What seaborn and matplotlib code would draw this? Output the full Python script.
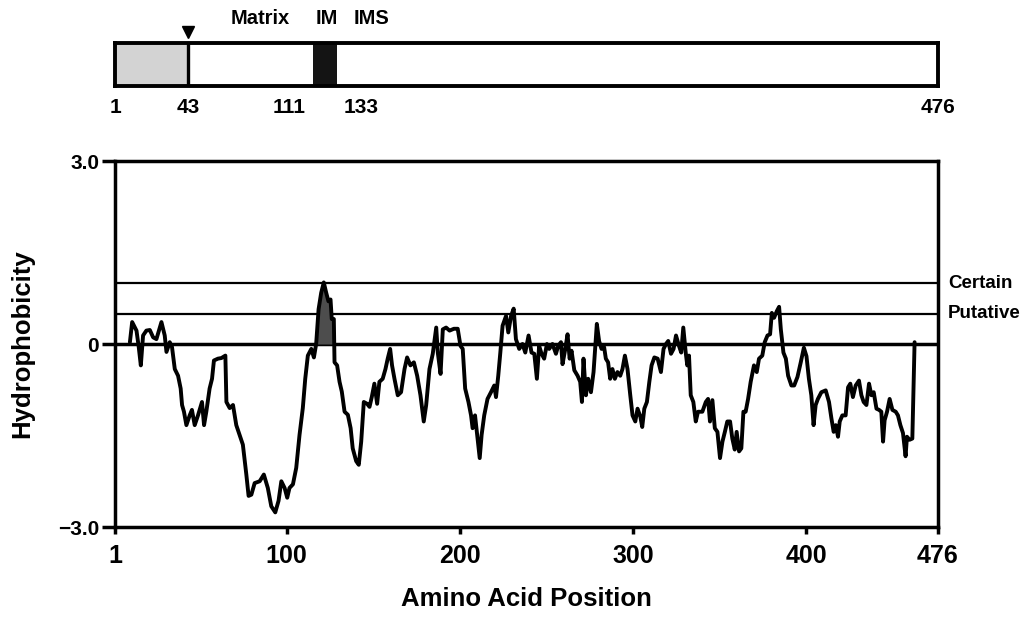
import numpy as np
import pandas as pd
import matplotlib
matplotlib.use('Agg')
import matplotlib.pyplot as plt
import matplotlib.transforms as mtransforms
import seaborn as sns

# ---------------- data ----------------
positions = [
    9.6, 10.9, 13.4, 14.7, 15.9, 17.2, 19.1, 21.1, 23.0, 24.9, 27.8, 29.7, 30.7, 32.6, 33.9,
    35.5, 37.4, 38.9, 39.7, 40.8, 42.2, 44.1, 45.4, 47.0, 48.9, 51.2, 52.4, 53.7, 55.6, 57.0,
    58.1, 60.4, 62.4, 64.7, 65.3, 67.2, 69.1, 71.0, 72.9, 74.8, 76.8, 78.1, 79.7, 81.6, 84.5,
    86.9, 89.2, 91.2, 93.5, 95.4, 97.0, 98.9, 100.4, 101.7, 103.7, 105.6, 107.5, 109.4, 110.8,
    112.3, 114.3, 115.8, 117.1, 118.5, 120.0, 121.5, 122.9, 124.2, 125.4, 126.1, 127.3, 127.7,
    129.2, 130.6, 131.9, 133.5, 135.4, 137.0, 138.2, 140.2, 141.7, 143.1, 144.6, 146.5, 147.9,
    149.2, 150.7, 152.3, 153.6, 155.5, 157.1, 158.4, 159.8, 160.9, 162.3, 164.2, 166.1, 168.1,
    169.6, 171.5, 173.5, 175.4, 177.3, 179.2, 180.6, 182.5, 184.4, 186.4, 187.3, 188.9, 190.2,
    192.1, 194.1, 196.6, 198.8, 200.4, 201.7, 203.1, 205.0, 206.5, 207.4, 208.8, 210.3, 211.5,
    212.6, 214.1, 216.0, 218.0, 219.9, 220.9, 222.2, 223.4, 224.7, 226.7, 228.0, 229.6, 231.1,
    232.4, 234.3, 236.2, 237.8, 239.7, 241.4, 243.0, 244.5, 245.8, 247.2, 248.7, 250.3, 251.6,
    253.5, 255.5, 256.8, 258.4, 259.3, 260.9, 262.2, 263.4, 264.5, 266.1, 268.0, 269.5, 270.5,
    271.4, 272.8, 274.1, 275.7, 277.2, 279.1, 280.4, 281.8, 283.3, 284.3, 285.6, 286.8, 288.1,
    289.5, 291.0, 292.6, 293.9, 295.3, 296.8, 298.4, 299.7, 301.3, 302.6, 304.2, 305.3, 306.5,
    308.0, 309.4, 310.7, 312.3, 314.2, 316.1, 317.6, 319.0, 320.3, 321.9, 323.4, 324.8, 326.5,
    327.8, 329.0, 330.4, 331.3, 332.3, 333.3, 334.8, 336.2, 337.5, 340.0, 342.0, 343.3, 344.4,
    345.8, 347.2, 348.7, 350.2, 351.6, 353.0, 354.4, 356.0, 357.3, 358.7, 359.8, 361.2, 362.5,
    363.7, 365.0, 366.4, 367.9, 369.8, 371.4, 372.7, 374.6, 376.0, 377.6, 379.1, 380.1, 381.4,
    383.0, 384.3, 385.3, 386.8, 388.2, 389.5, 391.4, 393.0, 394.9, 396.8, 398.6, 400.1, 401.5,
    402.9, 404.2, 405.4, 406.7, 408.7, 411.2, 413.1, 414.5, 415.8, 417.0, 418.3, 419.3, 420.8,
    422.7, 424.1, 425.4, 426.9, 428.5, 430.4, 431.8, 433.1, 434.7, 436.2, 437.6, 438.9, 440.5,
    442.0, 443.3, 444.3, 445.2, 446.6, 448.1, 449.7, 451.6, 452.9, 454.3, 455.8, 457.3, 458.1,
    459.6, 461.2, 462.5,
]
hydrophobicity = [
    0.03, 0.36, 0.22, -0.05, -0.35, 0.14, 0.22, 0.23, 0.11, 0.08, 0.36, 0.14, -0.13, 0.03, -0.05,
    -0.41, -0.52, -0.73, -1.00, -1.11, -1.33, -1.17, -1.08, -1.33, -1.17, -0.95, -1.33, -1.11, -0.73, -0.57,
    -0.27, -0.24, -0.23, -0.19, -0.95, -1.05, -1.00, -1.33, -1.49, -1.65, -2.14, -2.49, -2.47, -2.28, -2.25,
    -2.14, -2.36, -2.66, -2.76, -2.57, -2.25, -2.36, -2.52, -2.36, -2.30, -2.03, -1.49, -1.05, -0.57,
    -0.19, -0.08, -0.22, 0.00, 0.57, 0.84, 1.01, 0.84, 0.70, 0.73, 0.41, 0.41, -0.30,
    -0.35, -0.62, -0.78, -1.11, -1.16, -1.38, -1.71, -1.92, -1.98, -1.60, -0.95, -0.98, -1.03,
    -0.87, -0.65, -0.98, -0.62, -0.57, -0.41, -0.24, -0.08, -0.35, -0.57, -0.84, -0.79, -0.41,
    -0.22, -0.35, -0.30, -0.52, -0.84, -1.27, -1.00, -0.41, -0.16, 0.27, -0.14, -0.49, 0.24,
    0.27, 0.22, 0.25, 0.25, -0.03, -0.08, -0.73, -0.95, -1.17, -1.38, -1.17, -1.55, -1.87,
    -1.49, -1.17, -0.90, -0.79, -0.68, -0.87, -0.52, -0.14, 0.30, 0.46, 0.19, 0.46, 0.58,
    0.08, -0.08, 0.00, -0.14, 0.14, -0.14, -0.16, -0.57, -0.03, -0.16, -0.24, 0.00, -0.08,
    0.00, -0.16, -0.03, 0.03, -0.33, -0.08, 0.16, -0.24, -0.11, -0.43, -0.52, -0.62, -0.95,
    -0.24, -0.84, -0.57, -0.79, -0.46, 0.33, 0.05, -0.08, -0.05, -0.24, -0.30, -0.57, -0.41,
    -0.57, -0.46, -0.52, -0.41, -0.19, -0.41, -0.84, -1.17, -1.27, -1.06, -1.19, -1.36, -1.06,
    -0.95, -0.62, -0.35, -0.22, -0.24, -0.46, -0.08, 0.00, 0.05, -0.16, -0.08, 0.14, -0.03,
    -0.14, 0.27, -0.14, -0.35, -0.19, -0.84, -0.95, -1.27, -1.11, -1.11, -0.95, -0.90, -1.27,
    -0.92, -1.38, -1.44, -1.87, -1.60, -1.44, -1.27, -1.27, -1.55, -1.73, -1.44, -1.76, -1.71,
    -1.11, -1.11, -0.90, -0.62, -0.35, -0.46, -0.24, -0.19, 0.03, 0.14, 0.16, 0.51, 0.43,
    0.54, 0.61, 0.24, -0.14, -0.24, -0.52, -0.68, -0.68, -0.54, -0.30, -0.06, -0.20, -0.57,
    -0.84, -1.33, -1.00, -0.90, -0.79, -0.76, -0.95, -1.22, -1.44, -1.33, -1.52, -1.27, -1.17,
    -1.17, -0.71, -0.65, -0.87, -0.68, -0.60, -0.84, -0.95, -1.00, -0.65, -0.84, -0.79, -1.06,
    -1.08, -1.11, -1.60, -1.25, -1.11, -0.90, -1.08, -1.11, -1.17, -1.33, -1.46, -1.84, -1.52,
    -1.57, -1.55, 0.03,
]

certain_threshold = 1.0
putative_threshold = 0.5
threshold_labels = ['Certain', 'Putative']

x_ticks = [1, 100, 200, 300, 400, 476]
x_tick_labels = ['1', '100', '200', '300', '400', '476']
y_ticks = [-3.0, 0.0, 3.0]
y_tick_labels = ['\u22123.0', '0', '3.0']

domain_starts = [1, 43, 115, 129]
domain_ends = [43, 115, 129, 476]
domain_colors = ['#d3d3d3', 'white', '#141414', 'white']
boundary_positions = [1, 43, 111, 133, 476]
boundary_labels = ['1', '43', '111', '133', '476']
region_positions = [85, 123, 149]
region_labels = ['Matrix', 'IM', 'IMS']
cleavage_site = 43
tm_start, tm_end = 116, 128

# ---------------- style ----------------
sns.set_theme(style='ticks')
plt.rcParams['font.family'] = ['Liberation Sans', 'DejaVu Sans']
plt.rcParams['font.weight'] = 'bold'
plt.rcParams['axes.labelweight'] = 'bold'

fig = plt.figure(figsize=(10.25, 6.31), dpi=100)

# ---------------- hydrophobicity plot ----------------
ax = fig.add_axes([0.1122, 0.1648, 0.8029, 0.5800])
df = pd.DataFrame({'Position': positions, 'Hydrophobicity': hydrophobicity})

ax.axhline(0, color='black', lw=2.5, zorder=1)
ax.axhline(putative_threshold, color='black', lw=1.6, zorder=1)
ax.axhline(certain_threshold, color='black', lw=1.6, zorder=1)

pos = np.array(positions)
val = np.array(hydrophobicity)
mask = (pos >= tm_start) & (pos <= tm_end)
ax.fill_between(pos, 0, np.clip(val, 0, None), where=mask, interpolate=True,
                color='#4d4d4d', lw=0, zorder=2)

sns.lineplot(data=df, x='Position', y='Hydrophobicity', ax=ax, color='black',
             lw=2.8, estimator=None, sort=False, zorder=3)

ax.set_xlim(1, 476)
ax.set_ylim(-3, 3)
ax.set_xticks(x_ticks)
ax.set_xticklabels(x_tick_labels)
ax.set_yticks(y_ticks)
ax.set_yticklabels(y_tick_labels)
for s in ax.spines.values():
    s.set_visible(True)
    s.set_linewidth(2.5)
    s.set_color('black')
ax.tick_params(axis='y', length=9.5, width=2.5, direction='out', pad=2,
               labelsize=15, colors='black')
ax.tick_params(axis='x', length=5, width=2.5, direction='out', pad=7,
               labelsize=18, colors='black')
ax.set_xlabel('Amino Acid Position', fontsize=18.5, fontweight='bold', color='black')
ax.set_ylabel('Hydrophobicity', fontsize=18.5, fontweight='bold', color='black')
ax.xaxis.set_label_coords(0.5, -0.165)
ax.yaxis.set_label_coords(-0.098, 0.5)

trans_r = mtransforms.blended_transform_factory(ax.transAxes, ax.transData)
for lbl, yv in zip(threshold_labels, [certain_threshold, putative_threshold]):
    ax.text(1.012, yv, lbl, transform=trans_r, ha='left', va='center',
            fontsize=13.5, fontweight='bold', color='black', clip_on=False)

# ---------------- domain bar ----------------
axb = fig.add_axes([0.1122, 0.8637, 0.8029, 0.0681])
widths = np.array(domain_ends) - np.array(domain_starts)
axb.barh(y=[0.5] * len(domain_starts), width=widths, left=domain_starts, height=1.0,
         color=domain_colors, edgecolor='none')
axb.axvline(cleavage_site, color='black', lw=2.4)
axb.set_xlim(1, 476)
axb.set_ylim(0, 1)
axb.set_xticks([])
axb.set_yticks([])
for s in axb.spines.values():
    s.set_visible(True)
    s.set_linewidth(2.8)
    s.set_color('black')

tb = mtransforms.blended_transform_factory(axb.transData, axb.transAxes)
aligns = ['center', 'center', 'right', 'left', 'center']
for p, lbl, ha in zip(boundary_positions, boundary_labels, aligns):
    axb.text(p, -0.5, lbl, transform=tb, ha=ha, va='center', fontsize=15,
             fontweight='bold', color='black', clip_on=False)
for p, lbl in zip(region_positions, region_labels):
    axb.text(p, 1.58, lbl, transform=tb, ha='center', va='center', fontsize=14.5,
             fontweight='bold', color='black', clip_on=False)
axb.plot([cleavage_site], [1.26], marker='v', color='black', ms=9, transform=tb,
         clip_on=False, lw=0)

fig.savefig('out.png', dpi=100)
